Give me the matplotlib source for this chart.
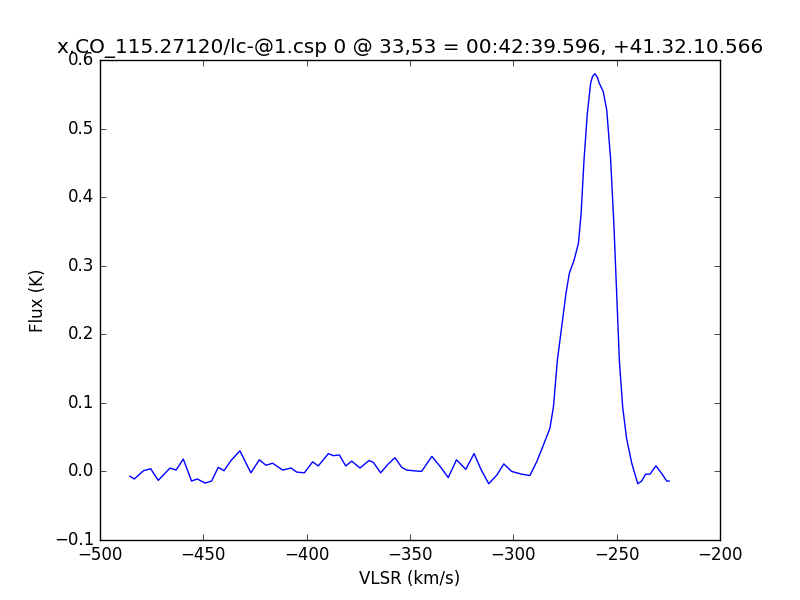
import matplotlib

matplotlib.use("Agg")
import matplotlib.pyplot as plt

# CO spectrum
vlsr = [
    -485.5, -483.4, -479.0, -475.5, -471.8, -466.1, -463.2, -459.7, -455.7,
    -452.9, -449.2, -446.0, -442.8, -440.0, -436.6, -432.3, -427.0, -422.9,
    -419.7, -416.5, -411.6, -407.6, -404.8, -401.1, -397.1, -394.4, -389.5,
    -387.1, -384.2, -381.1, -378.2, -374.2, -369.8, -367.7, -364.2, -360.5,
    -357.3, -354.0, -351.6, -348.4, -344.4, -339.4, -335.1, -331.5, -327.5,
    -323.0, -319.0, -315.5, -311.9, -307.9, -304.6, -300.8, -296.0, -292.0,
    -288.7, -285.5, -282.3, -280.6, -278.7, -276.6, -274.5, -272.9, -270.6,
    -268.5, -267.2, -265.8, -264.2, -262.6, -261.7, -260.5, -259.4, -258.4,
    -256.5, -254.8, -252.9, -251.3, -250.0, -248.7, -247.1, -245.2, -242.7,
    -239.8, -237.9, -236.0, -233.9, -231.0, -228.2, -225.8, -224.6,
]
flux = [
    -0.007, -0.011, 0.001, 0.004, -0.013, 0.005, 0.002, 0.018, -0.014,
    -0.011, -0.017, -0.014, 0.006, 0.001, 0.016, 0.030, -0.002, 0.017,
    0.009, 0.012, 0.002, 0.005, -0.001, -0.002, 0.014, 0.008, 0.026,
    0.023, 0.024, 0.008, 0.015, 0.005, 0.016, 0.013, -0.002, 0.011,
    0.020, 0.006, 0.002, 0.001, 0.000, 0.022, 0.006, -0.009, 0.017,
    0.003, 0.026, 0.002, -0.018, -0.005, 0.011, 0.000, -0.004, -0.006,
    0.014, 0.038, 0.063, 0.094, 0.162, 0.211, 0.260, 0.289, 0.308,
    0.333, 0.376, 0.454, 0.522, 0.566, 0.576, 0.580, 0.575, 0.566,
    0.554, 0.527, 0.454, 0.357, 0.260, 0.162, 0.094, 0.048, 0.012,
    -0.018, -0.014, -0.004, -0.004, 0.008, -0.003, -0.014, -0.014,
]

title = "x.CO_115.27120/lc-@1.csp 0 @ 33,53 = 00:42:39.596, +41.32.10.566"

plt.style.use("classic")
fig, ax = plt.subplots(figsize=(8, 6))
ax.plot(vlsr, flux, color="b", linewidth=1.0)
ax.set_xlim(-500, -200)
ax.set_ylim(-0.1, 0.6)
ax.set_xlabel("VLSR (km/s)")
ax.set_ylabel("Flux (K)")
ax.set_title(title)

fig.savefig("out.png", dpi=100)
